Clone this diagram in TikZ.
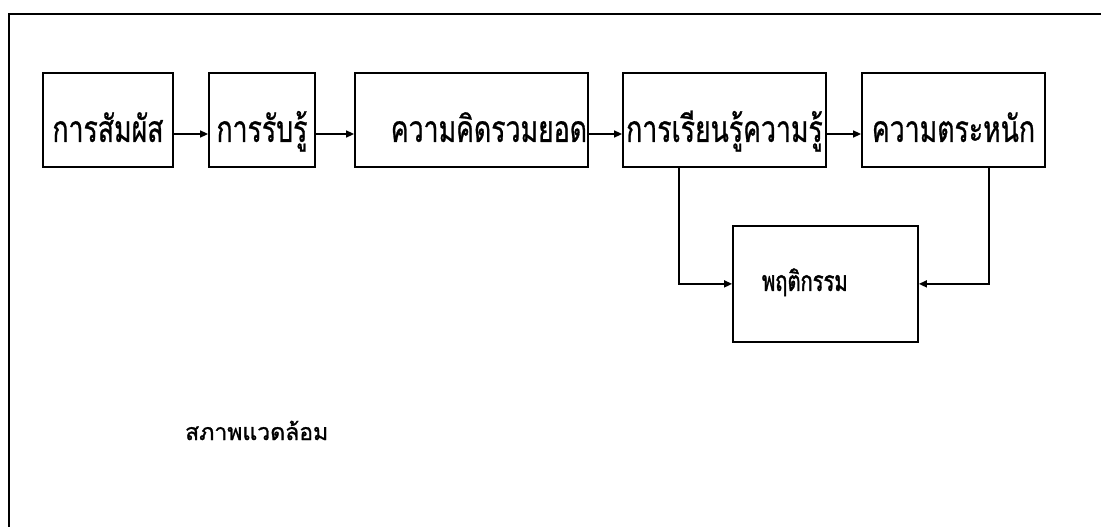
\documentclass[tikz,border=0pt]{standalone}
\usepackage{fontspec}
\newfontfamily\thaibox[Script=Thai,FakeStretch=0.72,FakeBold=0.7]{Loma}
\newfontfamily\thaibeh[Script=Thai,FakeStretch=0.72,FakeBold=1.4]{Loma}
\newfontfamily\thaienv[Script=Thai,FakeBold=1.2]{Loma}
\usetikzlibrary{arrows.meta}
\begin{document}
\begin{tikzpicture}[x=1pt,y=-1pt,
  box/.style={draw, line width=1.8pt, inner sep=0pt, anchor=north,
    font=\thaibox\fontsize{37}{40}\selectfont,
    text height=69pt, text depth=25pt},
  arr/.style={line width=1.6pt, -{Triangle[length=8pt,width=7pt]}},
  frame/.style={line width=2.6pt}]
\useasboundingbox (0,0) rectangle (1101,527);
\fill[white] (0,0) rectangle (1101,527);
% outer frame
\coordinate (ftr) at (1101,14);
\coordinate (ftl) at (9,14);
\coordinate (fbl) at (9,527);
\draw[frame] (ftr) -- (ftl) -- (fbl);
% boxes
\node[box, minimum width=130pt] (b1) at (108,72) {การสัมผัส};
\node[box, minimum width=106pt] (b2) at (262,72) {การรับรู้};
\node[box, minimum width=233pt, text width=231pt, align=right] (b3) at (471.5,72) {ความคิดรวมยอด};
\node[box, minimum width=203pt] (b4) at (724.5,72) {การเรียนรู้ความรู้};
\node[box, minimum width=183pt] (b5) at (953.5,72) {ความตระหนัก};
\node[box, minimum width=185pt, text width=185pt, align=left, text height=65pt, text depth=51pt,
  font=\thaibeh\fontsize{28}{30}\selectfont] (b6) at (825.5,225) {\hspace*{29pt}พฤติกรรม};
\node[anchor=base west, inner sep=0pt, font=\thaienv\fontsize{23}{26}\selectfont] (env) at (185,440) {สภาพแวดล้อม};
% arrows
\coordinate (ay) at (0,134);
\draw[arr] (b1.east |- ay) -- (b2.west |- ay);
\draw[arr] (b2.east |- ay) -- (b3.west |- ay);
\draw[arr] (b3.east |- ay) -- (b4.west |- ay);
\draw[arr] (b4.east |- ay) -- (b5.west |- ay);
\draw[arr] ([xshift=-45.5pt]b4.south) |- (b6.west);
\draw[arr] ([xshift=35.5pt]b5.south) |- (b6.east);
\end{tikzpicture}
\end{document}
